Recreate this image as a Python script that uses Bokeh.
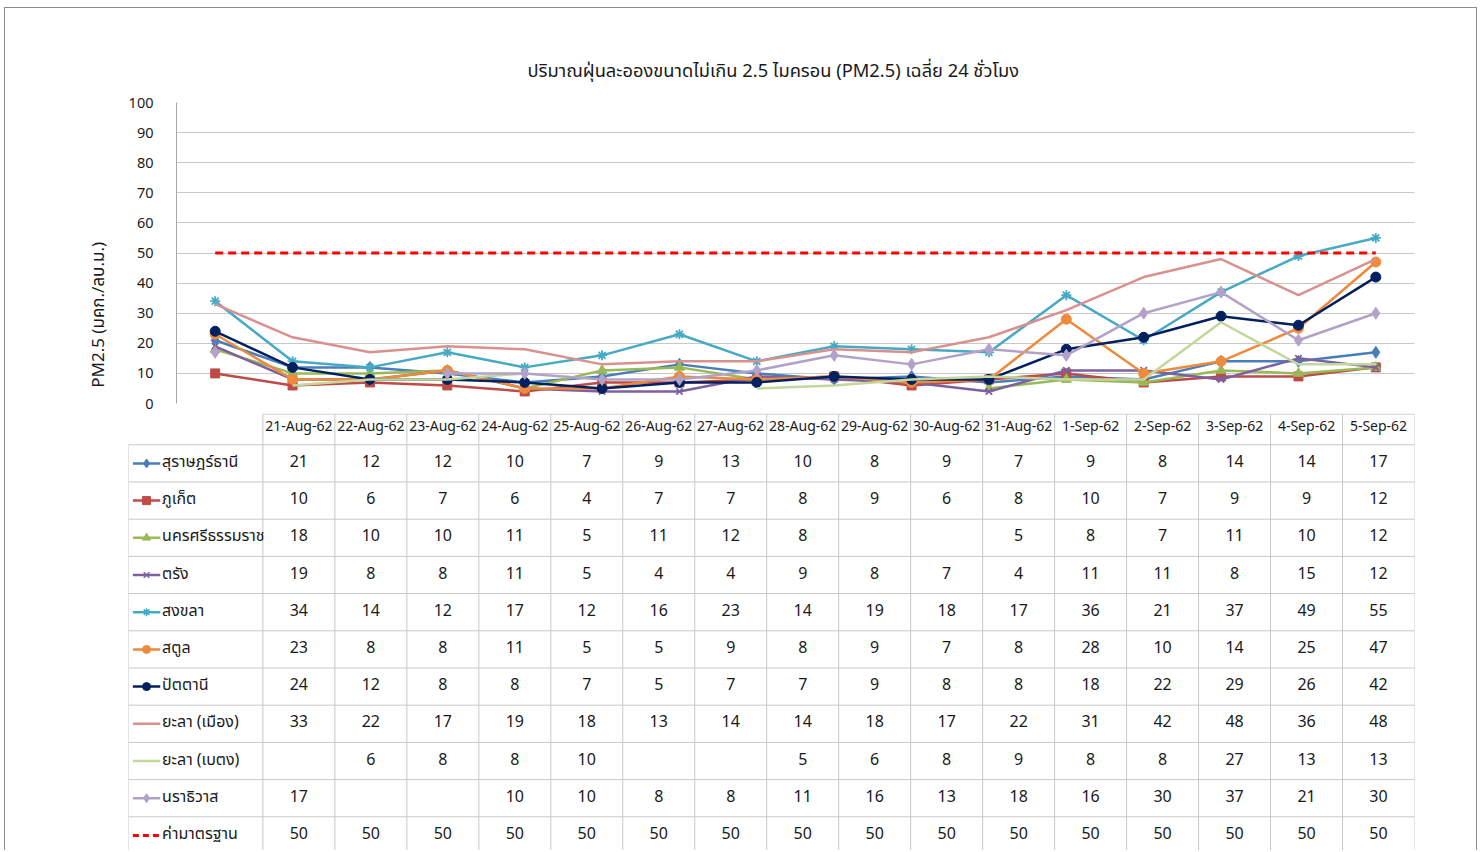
import math
from bokeh.plotting import figure
from bokeh.models import Range1d, SingleIntervalTicker
from bokeh.layouts import column
from bokeh.embed import file_html
from bokeh.resources import INLINE
from bokeh.core.properties import value

N = None
dates = ["21-Aug-62", "22-Aug-62", "23-Aug-62", "24-Aug-62", "25-Aug-62", "26-Aug-62",
         "27-Aug-62", "28-Aug-62", "29-Aug-62", "30-Aug-62", "31-Aug-62", "1-Sep-62",
         "2-Sep-62", "3-Sep-62", "4-Sep-62", "5-Sep-62"]

surat = [21, 12, 12, 10, 7, 9, 13, 10, 8, 9, 7, 9, 8, 14, 14, 17]
phuket = [10, 6, 7, 6, 4, 7, 7, 8, 9, 6, 8, 10, 7, 9, 9, 12]
nakhon = [18, 10, 10, 11, 5, 11, 12, 8, N, N, 5, 8, 7, 11, 10, 12]
trang = [19, 8, 8, 11, 5, 4, 4, 9, 8, 7, 4, 11, 11, 8, 15, 12]
songkhla = [34, 14, 12, 17, 12, 16, 23, 14, 19, 18, 17, 36, 21, 37, 49, 55]
satun = [23, 8, 8, 11, 5, 5, 9, 8, 9, 7, 8, 28, 10, 14, 25, 47]
pattani = [24, 12, 8, 8, 7, 5, 7, 7, 9, 8, 8, 18, 22, 29, 26, 42]
yala_mueang = [33, 22, 17, 19, 18, 13, 14, 14, 18, 17, 22, 31, 42, 48, 36, 48]
yala_betong = [N, 6, 8, 8, 10, N, N, 5, 6, 8, 9, 8, 8, 27, 13, 13]
narathiwat = [17, N, N, 10, 10, 8, 8, 11, 16, 13, 18, 16, 30, 37, 21, 30]
standard = [50] * 16

names = ["สุราษฎร์ธานี", "ภูเก็ต", "นครศรีธรรมราช", "ตรัง", "สงขลา", "สตูล", "ปัตตานี",
         "ยะลา (เมือง)", "ยะลา (เบตง)", "นราธิวาส", "ค่ามาตรฐาน"]
series = [surat, phuket, nakhon, trang, songkhla, satun, pattani,
          yala_mueang, yala_betong, narathiwat, standard]
line_colors = ["#4A7EBB", "#BE4B48", "#98B954", "#7D60A0", "#46AAC5", "#EE8A3C",
               "#002060", "#D9918F", "#C3D69B", "#B3A2C7", "#FF0000"]
markers = ["diamond", "square", "triangle", "x", "asterisk", "circle", "circle",
           None, None, "diamond", None]
marker_sizes = [12, 9, 10, 9, 10, 10, 10, 0, 0, 12, 0]

title_text = "ปริมาณฝุ่นละอองขนาดไม่เกิน 2.5 ไมครอน (PM2.5) เฉลี่ย 24 ชั่วโมง"
ylabel_text = "PM2.5 (มคก./ลบ.ม.)"

FONT = "Noto Sans, Noto Sans Thai, Tahoma, sans-serif"
TXT = "#1a1a1a"

def nanify(v):
    return [float("nan") if a is None else a for a in v]

ncols = len(dates)
nrows = len(names)
xs = list(range(ncols))

# ---------------- chart -----------------
p = figure(width=1471, height=405, x_range=Range1d(-0.5, ncols - 0.5), y_range=Range1d(0, 100),
           min_border_left=171, min_border_right=62, min_border_top=94, min_border_bottom=10,
           toolbar_location=None, output_backend="svg")
p.frame_align = False
p.outline_line_color = None
p.xaxis.visible = False
p.xgrid.visible = False
p.ygrid.grid_line_color = "#C8C8C8"
p.ygrid.grid_line_width = 1
p.yaxis.ticker = SingleIntervalTicker(interval=10, num_minor_ticks=0)
p.yaxis.major_tick_line_color = None
p.yaxis.minor_tick_line_color = None
p.yaxis.axis_line_color = "#A6A6A6"
p.yaxis.major_label_text_font = FONT
p.yaxis.major_label_text_font_size = "14.5px"
p.yaxis.major_label_text_color = TXT
p.yaxis.major_label_standoff = 17
p.yaxis.axis_label = ylabel_text + "\u00a0" * 28
p.yaxis.axis_label_text_font = FONT
p.yaxis.axis_label_text_font_size = "17px"
p.yaxis.axis_label_text_font_style = "normal"
p.yaxis.axis_label_text_color = TXT
p.yaxis.axis_label_standoff = 17

p.title.text = title_text
p.title.align = "left"
p.title.text_font = FONT
p.title.text_font_size = "18.3px"
p.title.text_font_style = "normal"
p.title.text_color = TXT
p.title.standoff = 42
p.title.offset = 351

for i, (vals, col, mk, ms) in enumerate(zip(series, line_colors, markers, marker_sizes)):
    ys = nanify(vals)
    if i == len(series) - 1:
        p.line(xs, ys, line_color=col, line_width=3, line_dash="8 5")
    else:
        p.line(xs, ys, line_color=col, line_width=2.5)
    if mk:
        if mk in ("x", "asterisk"):
            p.scatter(xs, ys, marker=mk, size=ms, line_color=col, line_width=1.8)
        else:
            p.scatter(xs, ys, marker=mk, size=ms, fill_color=col, line_color=col)

# ---------------- data table -----------------
ROWH = 37.2
COLW = 72.0
TOP = -(444.3 - 413) / ROWH
HDR = (444.3 - 413.6) / ROWH
LEFT = 134.4 / COLW
LIFT = 2.5 / ROWH
T_H = 437
t = figure(width=1471, height=T_H, x_range=Range1d(-1.867, ncols),
           y_range=Range1d(TOP + T_H / ROWH, TOP),
           min_border_left=123, min_border_right=62, min_border_top=0, min_border_bottom=0,
           toolbar_location=None, output_backend="svg")
t.frame_align = False
t.axis.visible = False
t.grid.visible = False
t.outline_line_color = None

gc = "#C8C8C8"
hx0 = [0] + [-LEFT] * (nrows + 1)
hy = [-HDR] + list(range(nrows + 1))
t.segment(x0=hx0, y0=hy, x1=[ncols] * len(hy), y1=hy, line_color=gc, line_width=1)
vx = [-LEFT] + list(range(ncols + 1))
vy0 = [0] + [-HDR] * (ncols + 1)
t.segment(x0=vx, y0=vy0, x1=vx, y1=[nrows] * len(vx), line_color=gc, line_width=1)

t.text([c + 0.5 for c in xs], [-HDR / 2 - 3.5 / ROWH] * ncols, text=dates, text_align="center",
       text_baseline="middle", text_font=value(FONT), text_font_size="14px", text_color=TXT)

tx, ty, tt = [], [], []
for r, vals in enumerate(series):
    for c, v in enumerate(vals):
        if v is not None:
            tx.append(c + 0.5)
            ty.append(r + 0.5 - LIFT)
            tt.append(str(v))
t.text(tx, ty, text=tt, text_align="center", text_baseline="middle",
       text_font=value(FONT), text_font_size="16px", text_color=TXT)

lx0, lx1, lm, ltx = -1.806, -1.426, -1.616, -1.40
for r, (nm, col, mk) in enumerate(zip(names, line_colors, markers)):
    yc = r + 0.5
    if r == nrows - 1:
        t.line([lx0, lx1], [yc, yc], line_color=col, line_width=3, line_dash="6 4")
    else:
        t.line([lx0, lx1], [yc, yc], line_color=col, line_width=2.5)
    if mk:
        if mk in ("x", "asterisk"):
            t.scatter([lm], [yc], marker=mk, size=8, line_color=col, line_width=1.5)
        else:
            t.scatter([lm], [yc], marker=mk, size=9 if mk == "diamond" else 8,
                      fill_color=col, line_color=col)
t.text([ltx] * nrows, [r + 0.5 - LIFT for r in range(nrows)], text=names, text_align="left",
       text_baseline="middle", text_font=value(FONT), text_font_size="16px", text_color=TXT)

layout = column(p, t, styles={"border-left": "1px solid #8C8C8C",
                              "border-top": "1px solid #8C8C8C",
                              "border-right": "1px solid #8C8C8C",
                              "margin-left": "4px", "margin-top": "7px"})

open("out.html", "w").write(file_html(layout, INLINE))
